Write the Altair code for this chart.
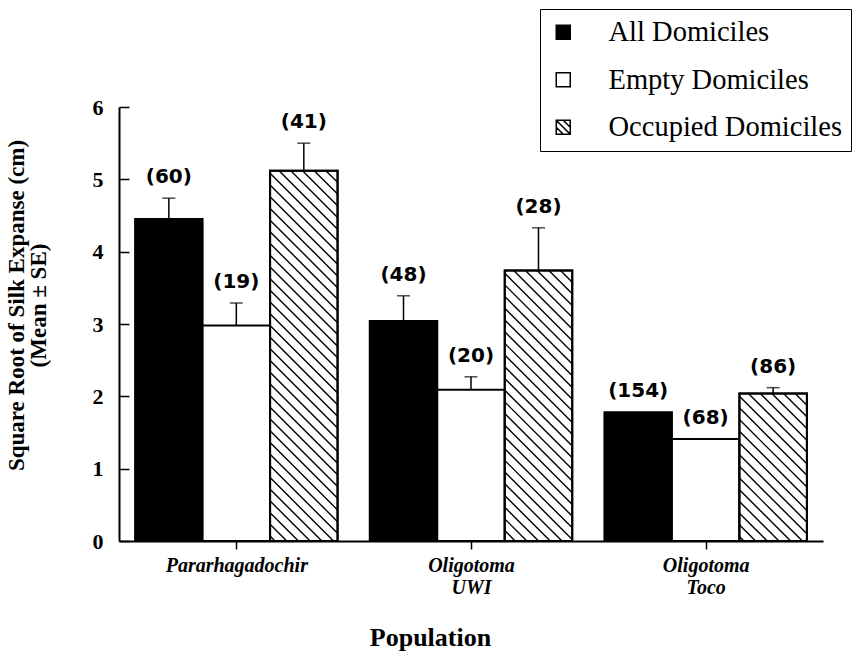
import json

import altair as alt
import numpy as np
import pandas as pd

# ---- data -----------------------------------------------------------------
populations = ["Pararhagadochir", "Oligotoma UWI", "Oligotoma Toco"]
population_lines = [["Pararhagadochir"], ["Oligotoma", "UWI"], ["Oligotoma", "Toco"]]
groups = ["All Domiciles", "Empty Domiciles", "Occupied Domiciles"]

all_mean = [4.45, 3.04, 1.78]
all_se = [0.29, 0.35, 0.0]
all_n = [60, 48, 154]

empty_mean = [2.98, 2.09, 1.41]
empty_se = [0.31, 0.18, 0.0]
empty_n = [19, 20, 68]

occupied_mean = [5.12, 3.74, 2.04]
occupied_se = [0.38, 0.59, 0.08]
occupied_n = [41, 28, 86]

y_ticks = [0, 1, 2, 3, 4, 5, 6]

# ---- layout ---------------------------------------------------------------
W, H = 704, 434
X_DOMAIN = [0, 3]
Y_DOMAIN = [0, 6]
BAR_W = 0.2876            # bar width in x units (three bars per population)
HATCH_STEP = 11.7         # pixel spacing of the diagonal hatch lines
HATCH_PHASE = -9.0

SERIF = "Liberation Serif"
SANS = "DejaVu Sans"

series = {
    "All Domiciles": (all_mean, all_se, all_n),
    "Empty Domiciles": (empty_mean, empty_se, empty_n),
    "Occupied Domiciles": (occupied_mean, occupied_se, occupied_n),
}

rows = []
for gi, g in enumerate(groups):
    means, ses, ns = series[g]
    for pi, p in enumerate(populations):
        center = pi + 0.5
        x0 = center - 1.5 * BAR_W + gi * BAR_W
        rows.append(
            dict(
                population=p,
                group=g,
                mean=means[pi],
                se=ses[pi],
                upper=means[pi] + ses[pi],
                half=means[pi] / 2,
                n=f"({ns[pi]})",
                x0=x0,
                x1=x0 + BAR_W,
                xc=x0 + BAR_W / 2,
            )
        )
df = pd.DataFrame(rows)

# diagonal hatching for the occupied-domicile bars, clipped to each bar
sx = W / (X_DOMAIN[1] - X_DOMAIN[0])
sy = H / (Y_DOMAIN[1] - Y_DOMAIN[0])
hatch = []
for r in df[df.group == "Occupied Domiciles"].itertuples():
    wpx = (r.x1 - r.x0) * sx
    hpx = r.mean * sy
    k0 = int(np.floor((-wpx - HATCH_PHASE) / HATCH_STEP)) - 1
    k1 = int(np.ceil((hpx - HATCH_PHASE) / HATCH_STEP)) + 1
    for k in range(k0, k1 + 1):
        d = HATCH_PHASE + k * HATCH_STEP
        u0 = max(0.0, -d)
        u1 = min(wpx, hpx - d)
        if u1 - u0 < 0.5:
            continue
        hatch.append(
            dict(
                hx0=r.x0 + u0 / sx,
                hy0=r.mean - (u0 + d) / sy,
                hx1=r.x0 + u1 / sx,
                hy1=r.mean - (u1 + d) / sy,
            )
        )
hatch_df = pd.DataFrame(hatch)

# ---- scales / axes --------------------------------------------------------
x_scale = alt.Scale(domain=X_DOMAIN, nice=False, zero=False)
y_scale = alt.Scale(domain=Y_DOMAIN, nice=False)

label_expr = json.dumps(population_lines) + "[floor(datum.value)]"

x_axis = alt.Axis(
    values=[0.5, 1.5, 2.5],
    labelExpr=label_expr,
    grid=False,
    domainColor="black",
    domainWidth=2,
    tickColor="black",
    tickWidth=1.5,
    tickSize=8,
    labelFont=SERIF,
    labelFontStyle="italic",
    labelFontWeight="bold",
    labelFontSize=20,
    labelLineHeight=22.5,
    labelPadding=6,
    labelColor="black",
    title="Population",
    titleFont=SERIF,
    titleFontSize=26,
    titleFontWeight="bold",
    titleColor="black",
    titleX=311,
    titleY=104,
    titleAlign="center",
    titleBaseline="alphabetic",
)

y_axis = alt.Axis(
    values=y_ticks,
    format="d",
    grid=False,
    domainColor="black",
    domainWidth=2,
    tickColor="black",
    tickWidth=1.5,
    tickSize=alt.ExprRef("-10"),
    labelFont=SERIF,
    labelFontWeight="bold",
    labelFontSize=22,
    labelPadding=26,
    labelColor="black",
    title=["Square Root of Silk Expanse (cm)", "(Mean \u00b1 SE)"],
    titleFont=SERIF,
    titleFontSize=23,
    titleFontWeight="bold",
    titleLineHeight=22,
    titleColor="black",
    titleAngle=270,
    titleX=-114,
    titleY=198,
    titleAlign="center",
    titleBaseline="top",
)

legend = alt.Legend(
    title=None,
    orient="none",
    legendX=421,
    legendY=-98,
    padding=9,
    strokeColor="black",
    fillColor="white",
    labelFont=SERIF,
    labelFontSize=28.5,
    labelColor="black",
    labelLimit=400,
    labelOffset=31,
    rowPadding=18.5,
    symbolSize=196,
    symbolOpacity=1,
    symbolStrokeColor="black",
    symbolStrokeWidth=1.5,
)

fill_scale = alt.Scale(domain=groups, range=["black", "white", "white"])
stroke_scale = alt.Scale(domain=groups, range=["black", "black", "black"])
shape_scale = alt.Scale(
    domain=groups,
    range=[
        "square",
        "square",
        "M-1,-1H1V1H-1Z M-1,-1L1,1 M0,-1L1,0 M-1,0L0,1",
    ],
)

base = alt.Chart(df)

# point layer that carries the legend; it sits underneath the bars
legend_layer = base.mark_point(filled=True, size=196, strokeWidth=1.5, opacity=1).encode(
    x=alt.X("xc:Q", scale=x_scale, axis=x_axis),
    y=alt.Y("half:Q", scale=y_scale, axis=y_axis),
    fill=alt.Fill("group:N", scale=fill_scale, legend=legend),
    shape=alt.Shape("group:N", scale=shape_scale, legend=legend),
    stroke=alt.Stroke("group:N", scale=stroke_scale, legend=legend),
)

bars = base.mark_rect(stroke="black", strokeWidth=2).encode(
    x=alt.X("x0:Q", scale=x_scale),
    x2="x1:Q",
    y=alt.Y("mean:Q", scale=y_scale),
    y2=alt.datum(0),
    fill=alt.Fill("group:N", scale=fill_scale, legend=None),
)

hatch_layer = alt.Chart(hatch_df).mark_rule(color="black", strokeWidth=1.4).encode(
    x=alt.X("hx0:Q", scale=x_scale),
    x2="hx1:Q",
    y=alt.Y("hy0:Q", scale=y_scale),
    y2="hy1:Q",
)

bar_outline = base.transform_filter("datum.group == 'Occupied Domiciles'").mark_rect(
    fill="transparent", stroke="black", strokeWidth=2
).encode(
    x=alt.X("x0:Q", scale=x_scale),
    x2="x1:Q",
    y=alt.Y("mean:Q", scale=y_scale),
    y2=alt.datum(0),
)

err = base.transform_filter("datum.se > 0")
err_stem = err.mark_rule(color="black", strokeWidth=1.5).encode(
    x=alt.X("xc:Q", scale=x_scale),
    y=alt.Y("mean:Q", scale=y_scale),
    y2="upper:Q",
)
err_cap = err.mark_tick(color="black", thickness=1.5, size=13, orient="horizontal").encode(
    x=alt.X("xc:Q", scale=x_scale),
    y=alt.Y("upper:Q", scale=y_scale),
)

n_labels = base.mark_text(
    font=SANS, fontSize=20, fontWeight="bold", color="black",
    baseline="middle", align="center", dy=-21,
).encode(
    x=alt.X("xc:Q", scale=x_scale),
    y=alt.Y("upper:Q", scale=y_scale),
    text="n:N",
)

chart = (
    alt.layer(legend_layer, bars, hatch_layer, bar_outline, err_stem, err_cap, n_labels)
    .properties(
        width=W,
        height=H,
        padding={"left": 119, "top": 107, "right": 31, "bottom": 111},
        autosize=alt.AutoSizeParams(type="none"),
        background="white",
    )
    .configure_view(stroke="transparent")
)

chart.save("out.html", embed_options={"renderer": "svg", "actions": False})
